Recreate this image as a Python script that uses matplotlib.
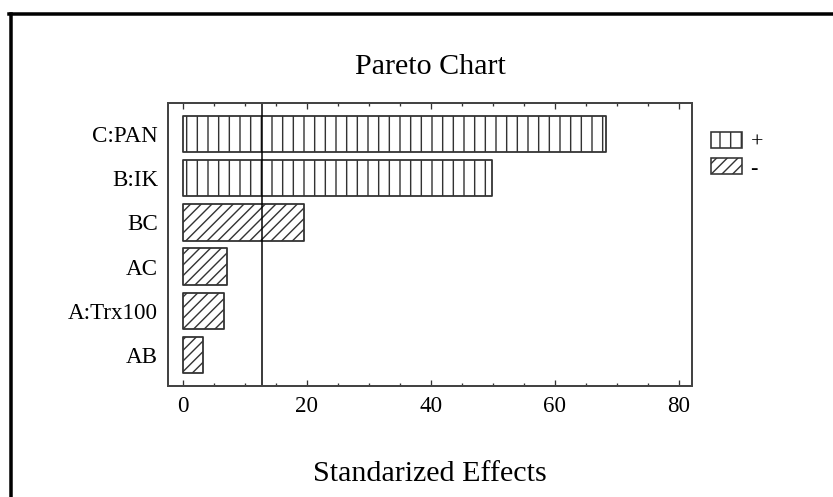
import matplotlib
matplotlib.use("Agg")
import matplotlib.pyplot as plt
from matplotlib.patches import Patch
from matplotlib.lines import Line2D
from matplotlib.ticker import MultipleLocator

# Pareto chart of standardized effects
factors = ["C:PAN", "B:IK", "BC", "AC", "A:Trx100", "AB"]
effects = [68.3, 49.8, 19.5, 7.1, 6.6, 3.2]
signs = ["+", "+", "-", "-", "-", "-"]
critical_value = 12.7

# dpi 64 so the default hatch spacing matches the reference
DPI = 64
PX = 72.0 / DPI  # points per pixel

plt.rcParams["font.family"] = ["Liberation Serif", "DejaVu Serif"]
plt.rcParams["hatch.linewidth"] = 1.4 * PX
plt.rcParams["hatch.color"] = "#333333"

fig = plt.figure(figsize=(833 / DPI, 497 / DPI), dpi=DPI)
ax = fig.add_axes([168 / 833, 1 - 386 / 497, (692 - 168) / 833, (386 - 103) / 497])

hatch_map = {"+": "|", "-": "//"}
for i, (name, val, s) in enumerate(zip(factors, effects, signs)):
    ax.barh(i, val, height=0.82, left=0, facecolor="white",
            edgecolor="#333333", linewidth=1.8 * PX, hatch=hatch_map[s],
            joinstyle="round")

ax.axvline(critical_value, color="black", linewidth=1.5 * PX)

ax.set_yticks(range(len(factors)))
ax.set_yticklabels(factors)
ax.set_ylim(len(factors) - 0.3, -0.7)
ax.set_xlim(-2.4, 82.1)
ax.xaxis.set_major_locator(MultipleLocator(20))
ax.xaxis.set_minor_locator(MultipleLocator(5))
ax.tick_params(axis="x", which="both", direction="in", top=True,
               width=1.3 * PX, color="#333333", labelsize=23 * PX, pad=10 * PX)
ax.tick_params(axis="x", which="major", length=6 * PX)
ax.tick_params(axis="x", which="minor", length=3 * PX)
ax.tick_params(axis="y", length=0, labelsize=23 * PX, pad=10 * PX)
for sp in ax.spines.values():
    sp.set_linewidth(2 * PX)
    sp.set_color("#444444")

ax.set_xlabel("Standarized Effects", fontsize=30 * PX, labelpad=44 * PX)
fig.text(430 / 833, 1 - 67 / 497, "Pareto Chart", ha="center", va="center",
         fontsize=30 * PX)

handles = [Patch(facecolor="white", edgecolor="#333333", hatch="|", linewidth=1.6 * PX),
           Patch(facecolor="white", edgecolor="#333333", hatch="//", linewidth=1.6 * PX)]
fig.legend(handles, ["+", "-"], loc="upper left",
           bbox_to_anchor=(693 / 833, 1 - 114 / 497), frameon=False,
           fontsize=22 * PX, handlelength=31 / 22, handleheight=17 / 22,
           handletextpad=0.4, labelspacing=0.25, borderpad=0.3)

# outer frame of the original image (only top and left edge are visible)
fig.add_artist(Line2D([10.5 / 833, 10.5 / 833], [0, 1 - 13.5 / 497],
                      transform=fig.transFigure, color="black", linewidth=3.5 * PX))
fig.add_artist(Line2D([9 / 833, 1], [1 - 13.5 / 497, 1 - 13.5 / 497],
                      transform=fig.transFigure, color="black", linewidth=3.5 * PX))

fig.savefig("out.png", dpi=DPI, facecolor="white")
